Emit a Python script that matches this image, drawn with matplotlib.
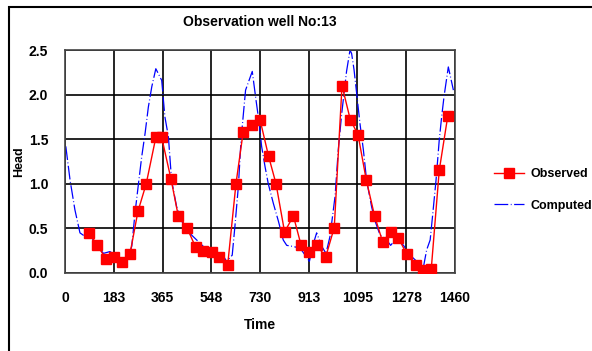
import matplotlib.pyplot as plt
from matplotlib.patches import Rectangle

plt.rcParams['font.family'] = ['Liberation Sans', 'DejaVu Sans']

obs_day = [91, 121, 153, 184, 212, 243, 273, 304, 340, 362, 397, 424, 456, 489, 517,
           549, 578, 609, 640, 667, 699, 730, 762, 790, 822, 855, 884, 915, 943, 976,
           1008, 1037, 1068, 1097, 1128, 1159, 1189, 1220, 1248, 1280, 1313, 1341,
           1371, 1401, 1433]
obs_head = [0.45, 0.31, 0.16, 0.18, 0.12, 0.21, 0.69, 1.0, 1.52, 1.52, 1.05, 0.64,
            0.51, 0.29, 0.25, 0.24, 0.18, 0.09, 1.0, 1.58, 1.66, 1.72, 1.31, 1.0, 0.46,
            0.64, 0.31, 0.24, 0.31, 0.18, 0.51, 2.10, 1.72, 1.55, 1.04, 0.64, 0.35,
            0.46, 0.39, 0.21, 0.09, 0.03, 0.04, 1.15, 1.76]

comp_day = [3, 19, 37, 56, 75, 95, 119, 144, 168, 200, 231, 250, 262, 275, 287, 300,
            312, 325, 340, 362, 374, 387, 399, 418, 437, 462, 493, 524, 555, 587, 605,
            626, 636, 649, 659, 668, 676, 701, 715, 727, 736, 749, 761, 780, 799, 817,
            830, 849, 880, 899, 915, 930, 942, 961, 977, 992, 1011, 1023, 1036, 1054,
            1067, 1073, 1082, 1092, 1104, 1117, 1129, 1148, 1161, 1179, 1204, 1219,
            1242, 1267, 1292, 1317, 1342, 1354, 1367, 1377, 1389, 1401, 1410, 1419,
            1435, 1454]
comp_head = [1.42, 1.04, 0.71, 0.45, 0.41, 0.42, 0.31, 0.22, 0.24, 0.18, 0.13, 0.30,
             0.67, 1.0, 1.30, 1.57, 1.86, 2.09, 2.29, 2.16, 1.75, 1.53, 1.04, 0.74,
             0.58, 0.46, 0.37, 0.28, 0.22, 0.22, 0.13, 0.20, 0.52, 0.97, 1.49, 1.79,
             2.05, 2.26, 1.94, 1.68, 1.42, 1.19, 1.0, 0.78, 0.58, 0.37, 0.31, 0.30,
             0.28, 0.20, 0.13, 0.33, 0.45, 0.30, 0.22, 0.41, 0.86, 1.38, 1.79, 2.26,
             2.50, 2.46, 2.28, 2.01, 1.68, 1.38, 1.04, 0.74, 0.58, 0.43, 0.37, 0.31,
             0.39, 0.31, 0.20, 0.13, 0.07, 0.26, 0.37, 0.67, 1.04, 1.49, 1.75, 1.98,
             2.31, 2.05]

xticks = [0, 183, 365, 548, 730, 913, 1095, 1278, 1460]
yticks = [0.0, 0.5, 1.0, 1.5, 2.0, 2.5]

fig = plt.figure(figsize=(5.92, 3.51), dpi=100)
ax = fig.add_axes([65 / 592, 1 - 273 / 351, 390 / 592, 223 / 351])

ax.plot(obs_day, obs_head, color='red', lw=1, marker='s', ms=6.5,
        markeredgecolor='red', label='Observed', zorder=3)
ax.plot(comp_day, comp_head, color='blue', lw=0.9, dashes=(11, 2, 0.7, 2),
        label='Computed', zorder=2)

ax.set_xlim(0, 1460)
ax.set_ylim(0, 2.5)
ax.set_xticks(xticks)
ax.set_yticks(yticks)
ax.set_yticklabels(['%.1f' % v for v in yticks])
ax.grid(True, color='black', lw=1.2)
ax.set_axisbelow(True)
for s in ax.spines.values():
    s.set_color('#444444')
    s.set_linewidth(1.2)
ax.tick_params(axis='x', length=0, pad=13, labelsize=10)
ax.tick_params(axis='y', length=0, pad=12, labelsize=10)
for lab in ax.get_xticklabels() + ax.get_yticklabels():
    lab.set_fontweight('bold')

ax.set_title('Observation well No:13', fontsize=10, fontweight='bold', pad=17)
ax.set_xlabel('Time', fontsize=10, fontweight='bold', labelpad=9)
ax.set_ylabel('Head', fontsize=9, fontweight='bold', labelpad=3)

fig.legend(loc='upper left', bbox_to_anchor=(483 / 592, 1 - 157 / 351),
           frameon=False, handlelength=2.4, handletextpad=0.5, labelspacing=1.55,
           prop={'weight': 'bold', 'size': 9})

fig.patches.append(Rectangle((9 / 592, -0.1), 1.2, 1.1 - 7 / 351,
                             transform=fig.transFigure, fill=False,
                             edgecolor='black', lw=1.5))

fig.savefig('out.png', dpi=100)
